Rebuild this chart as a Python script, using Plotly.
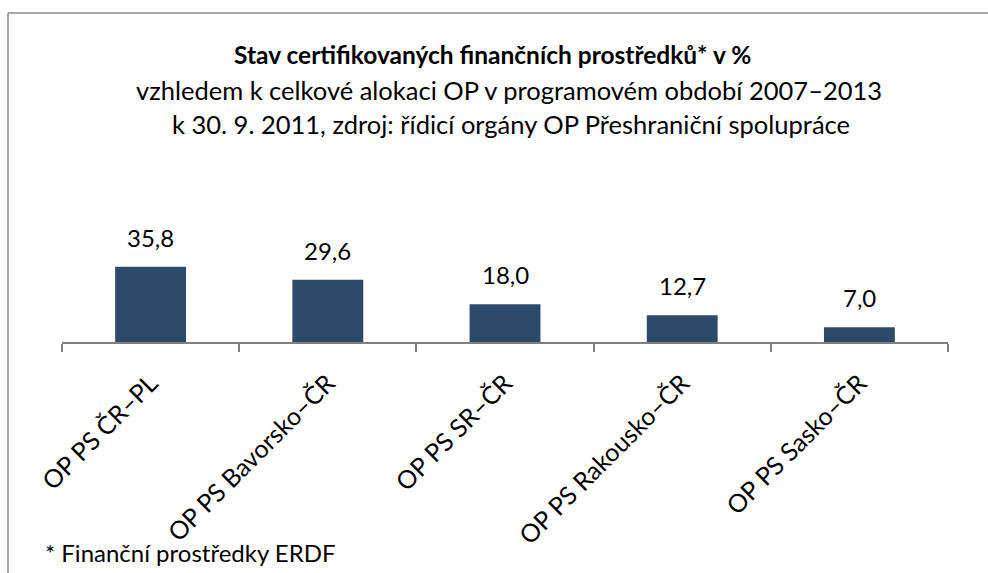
import plotly.graph_objects as go

categories = ["OP PS ČR–PL", "OP PS Bavorsko–ČR", "OP PS SR–ČR", "OP PS Rakousko–ČR", "OP PS Sasko–ČR"]
values = [35.8, 29.6, 18.0, 12.7, 7.0]

title_line1 = "Stav certifikovaných finančních prostředků* v %"
title_line2 = "vzhledem k celkové alokaci OP v programovém období 2007–2013"
title_line3 = "k 30. 9. 2011, zdroj: řídicí orgány OP Přeshraniční spolupráce"
footnote = "* Finanční prostředky ERDF"

W, H = 988, 573
FONT = "Lato"
BAR = "#2D4A6B"

def px(x):
    return x / W

def py(y):
    return 1 - y / H

fig = go.Figure(go.Bar(
    x=categories, y=values, marker=dict(color=BAR, line=dict(width=0)),
    width=0.4, hoverinfo="skip",
))

for c, v in zip(categories, values):
    fig.add_annotation(x=c, y=v, xref="x", yref="y", text=f"{v:.1f}".replace(".", ","),
                       showarrow=False, yanchor="bottom", yshift=13,
                       font=dict(family=FONT, size=24, color="#000"))

fig.add_annotation(x=px(492), y=py(55), xref="paper", yref="paper", text=f"<b>{title_line1}</b>",
                   showarrow=False, xanchor="center", yanchor="middle", font=dict(family=FONT, size=24.5, color="#000"))
fig.add_annotation(x=px(509), y=py(90), xref="paper", yref="paper", text=title_line2,
                   showarrow=False, xanchor="center", yanchor="middle", font=dict(family=FONT, size=25.5, color="#000"))
fig.add_annotation(x=px(511), y=py(124), xref="paper", yref="paper", text=title_line3,
                   showarrow=False, xanchor="center", yanchor="middle", font=dict(family=FONT, size=25.5, color="#000"))
fig.add_annotation(x=px(43), y=py(552), xref="paper", yref="paper", text=footnote,
                   showarrow=False, xanchor="left", yanchor="middle", font=dict(family=FONT, size=24, color="#000"))

# chart border (top and left edges visible)
fig.add_shape(type="line", xref="paper", yref="paper", x0=px(8), x1=1.01, y0=py(13), y1=py(13),
              line=dict(color="#8C8C8C", width=1.5))
fig.add_shape(type="line", xref="paper", yref="paper", x0=px(8), x1=px(8), y0=py(13), y1=-0.01,
              line=dict(color="#8C8C8C", width=1.5))

fig.update_layout(
    width=W, height=H,
    margin=dict(l=0, r=0, t=0, b=0),
    paper_bgcolor="white", plot_bgcolor="white",
    showlegend=False,
    xaxis=dict(domain=[px(62), px(948)], showline=True, linecolor="#7F7F7F", linewidth=1.5,
               ticks="outside", tickson="boundaries", ticklen=8, tickcolor="#7F7F7F", tickwidth=1.5,
               tickangle=-45, ticklabelstandoff=15, tickfont=dict(family=FONT, size=25, color="#000"),
               showgrid=False, zeroline=False, automargin=False),
    yaxis=dict(domain=[py(342), py(258)], range=[0, 40], visible=False, automargin=False),
)

fig.write_html("out.html", config={"displayModeBar": False},
               post_script="document.body.style.margin='0';document.body.style.overflow='hidden';")
